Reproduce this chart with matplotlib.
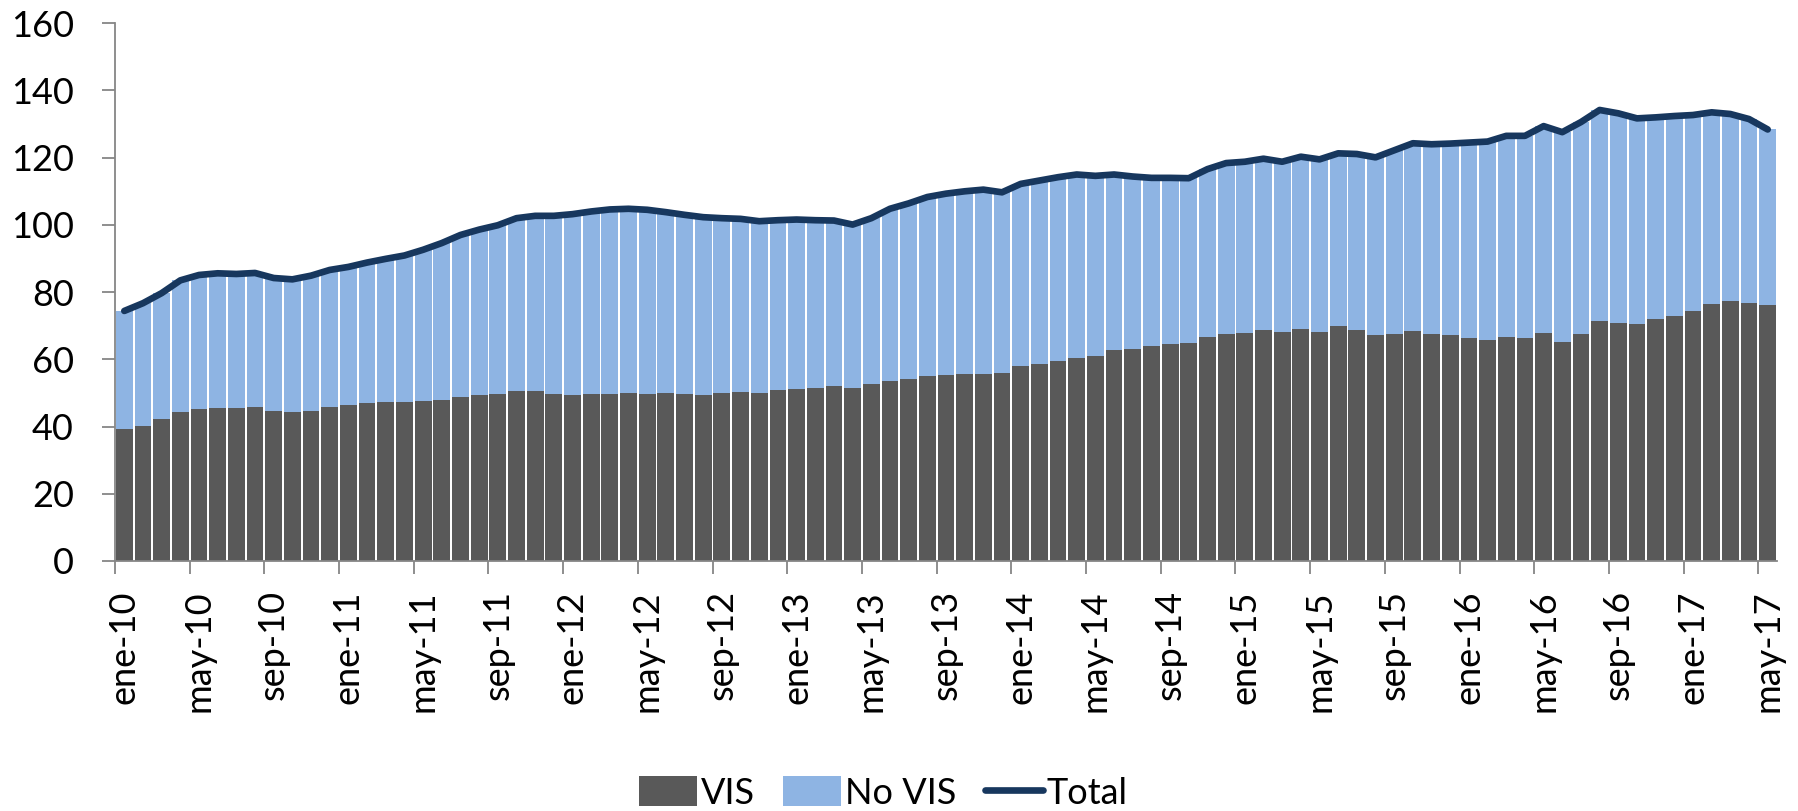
import numpy as np
import matplotlib
matplotlib.use('Agg')
import matplotlib.pyplot as plt

plt.rcParams['font.family'] = ['Lato', 'DejaVu Sans']

# Monthly series, ene-10 .. may-17:
vis = [39.4, 40.3, 42.1, 44.4, 45.3, 45.6, 45.4, 45.9, 44.5, 44.3, 44.5, 45.9,
       46.4, 47.1, 47.4, 47.2, 47.7, 47.9, 48.9, 49.5, 49.6, 50.5, 50.5, 49.6,
       49.4, 49.6, 49.6, 50.0, 49.8, 49.9, 49.6, 49.4, 49.9, 50.3, 50.1, 51.0,
       51.2, 51.6, 52.0, 51.6, 52.6, 53.5, 54.2, 55.0, 55.3, 55.6, 55.7, 55.9,
       57.9, 58.6, 59.6, 60.3, 61.0, 62.7, 63.2, 63.9, 64.6, 64.8, 66.6, 67.6,
       67.9, 68.7, 68.0, 69.0, 68.2, 69.8, 68.6, 67.1, 67.5, 68.4, 67.4, 67.1,
       66.3, 65.7, 66.6, 66.3, 67.8, 65.1, 67.4, 71.4, 70.8, 70.6, 71.9, 73.0,
       74.5, 76.5, 77.4, 76.8, 76.1]
no_vis = [35.0, 36.4, 37.6, 39.1, 39.8, 40.0, 40.0, 39.8, 39.7, 39.5, 40.4, 40.7,
          41.1, 41.7, 42.5, 43.7, 44.9, 46.7, 48.1, 49.1, 50.3, 51.5, 52.2, 53.1,
          53.8, 54.4, 55.0, 54.8, 54.7, 53.9, 53.4, 52.9, 52.1, 51.5, 51.0, 50.4,
          50.4, 49.8, 49.3, 48.5, 49.4, 51.3, 52.2, 53.3, 54.0, 54.4, 54.8, 53.8,
          54.3, 54.6, 54.6, 54.7, 53.6, 52.3, 51.2, 50.1, 49.4, 49.1, 50.0, 50.8,
          50.9, 51.0, 50.8, 51.3, 51.3, 51.5, 52.5, 53.0, 54.7, 55.9, 56.6, 57.1,
          58.2, 59.1, 59.9, 60.2, 61.6, 62.5, 63.2, 62.8, 62.4, 61.1, 60.1, 59.4,
          58.2, 57.0, 55.6, 54.7, 52.3]
total = [74.4, 76.7, 79.7, 83.5, 85.1, 85.6, 85.4, 85.7, 84.2, 83.8, 84.9, 86.6,
         87.5, 88.8, 89.9, 90.9, 92.6, 94.6, 97.0, 98.6, 99.9, 102.0, 102.7, 102.7,
         103.2, 104.0, 104.6, 104.8, 104.5, 103.8, 103.0, 102.3, 102.0, 101.8, 101.1, 101.4,
         101.6, 101.4, 101.3, 100.1, 102.0, 104.8, 106.4, 108.3, 109.3, 110.0, 110.5, 109.7,
         112.2, 113.2, 114.2, 115.0, 114.6, 115.0, 114.4, 114.0, 114.0, 113.9, 116.6, 118.4,
         118.8, 119.7, 118.8, 120.3, 119.5, 121.3, 121.1, 120.1, 122.2, 124.3, 124.0, 124.2,
         124.5, 124.8, 126.5, 126.5, 129.4, 127.6, 130.6, 134.2, 133.2, 131.7, 132.0, 132.4,
         132.7, 133.5, 133.0, 131.5, 128.4]

month_names = ['ene', 'feb', 'mar', 'abr', 'may', 'jun',
               'jul', 'ago', 'sep', 'oct', 'nov', 'dic']
start_year = 10
labels = ['%s-%02d' % (month_names[i % 12], start_year + i // 12)
          for i in range(len(vis))]

dark = '#595959'
light = '#8EB4E3'
navy = '#17375E'
axis_grey = '#868686'
fs = 26

x = np.arange(len(vis))
fig = plt.figure(figsize=(17.99, 8.11), dpi=100)
ax = fig.add_axes([0.0639, 0.3083, 0.9239, 0.663])

b1 = ax.bar(x, vis, width=0.9, color=dark, label='VIS', zorder=2)
b2 = ax.bar(x, no_vis, width=0.9, bottom=vis, color=light, label='No VIS',
            zorder=2)
l1, = ax.plot(x, total, color=navy, lw=4.8, solid_capstyle='round',
              solid_joinstyle='round', label='Total', zorder=3)

ax.set_xlim(-0.5, len(vis) - 0.5)
ax.set_ylim(0, 160)
ax.set_yticks(np.arange(0, 161, 20))
ax.tick_params(axis='y', direction='out', length=9.5, width=1.3,
               color=axis_grey, labelsize=fs, pad=20)

# Labels at bar centres, tick marks on the left edge of every 4th month
ax.set_xticks(x[::4])
ax.set_xticklabels(labels[::4], rotation=90, fontsize=fs)
ax.set_xticks(x[::4] - 0.5, minor=True)
ax.tick_params(axis='x', which='major', length=0, pad=21)
ax.tick_params(axis='x', which='minor', direction='out', length=9.5,
               width=1.3, color=axis_grey)

for side in ['top', 'right']:
    ax.spines[side].set_visible(False)
for side in ['left', 'bottom']:
    ax.spines[side].set_color(axis_grey)
    ax.spines[side].set_linewidth(1.3)

fig.legend(handles=[b1, b2, l1], loc='center', bbox_to_anchor=(0.491, 0.022),
           ncol=3, frameon=False, fontsize=fs, handlelength=1.6,
           handleheight=0.9, handletextpad=0.1, columnspacing=0.8, borderpad=0)

fig.savefig('out.png', dpi=100)
